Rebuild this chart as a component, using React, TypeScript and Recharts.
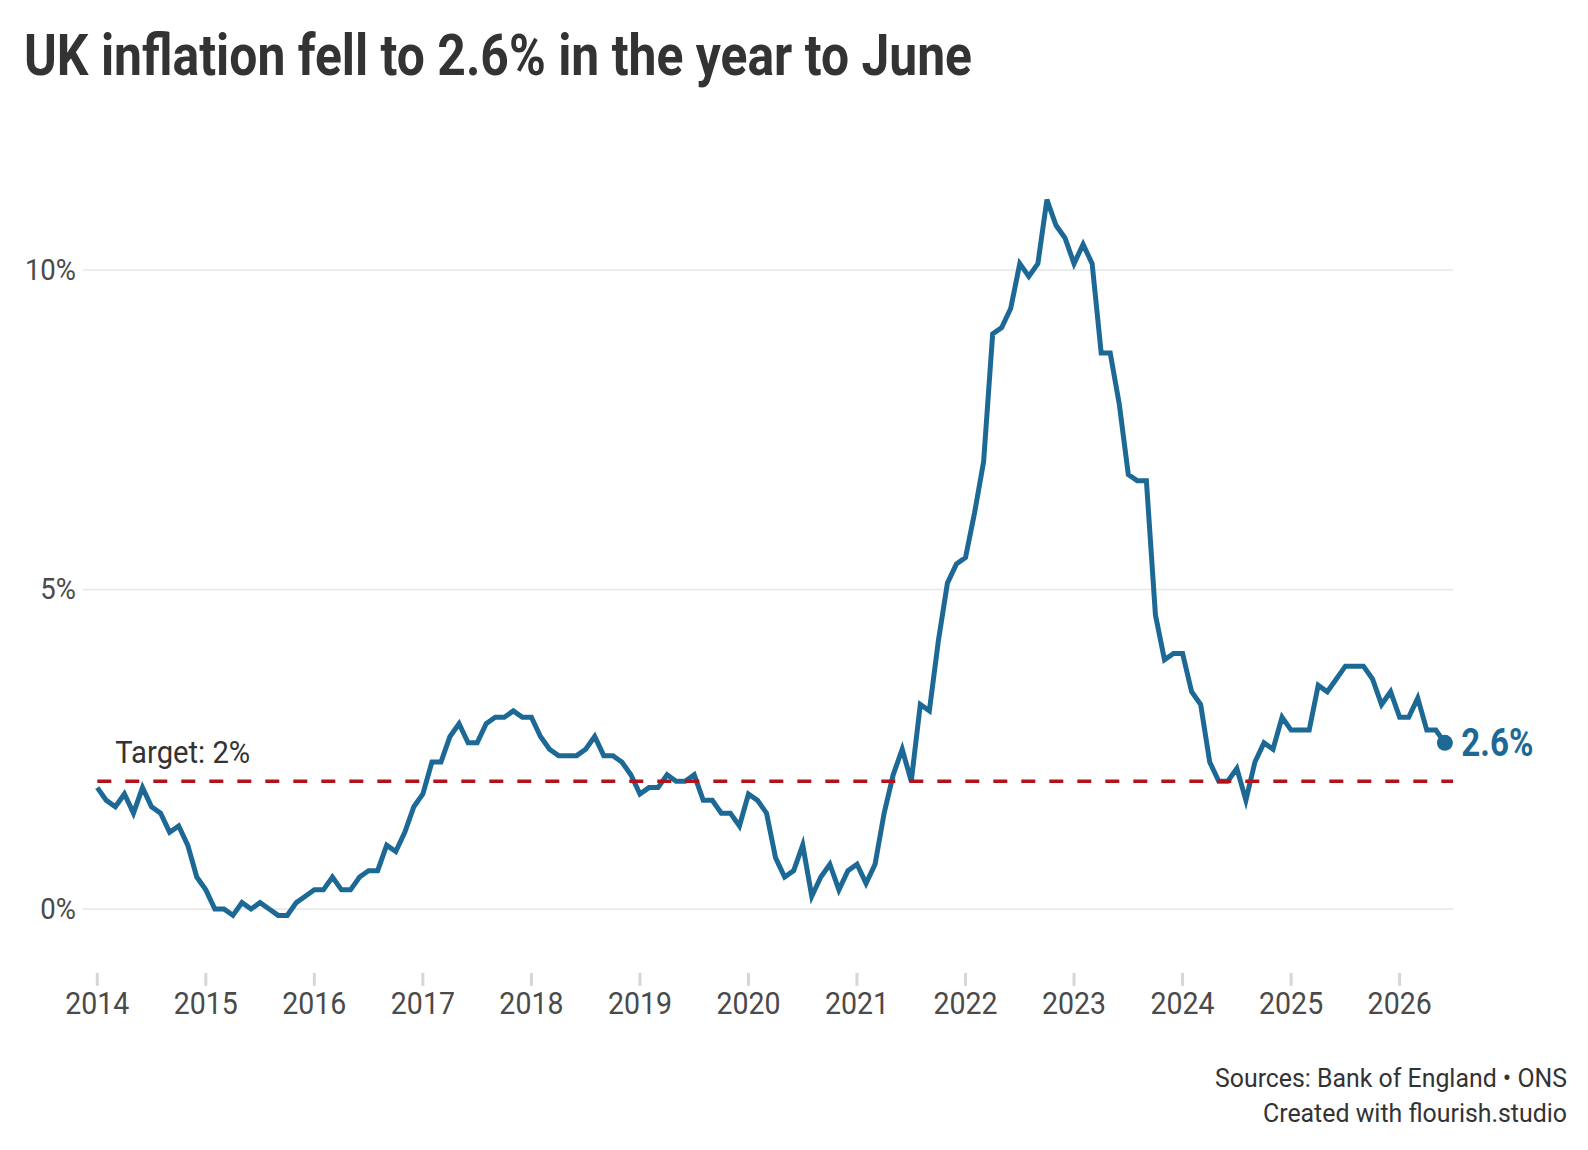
import React from 'react';
import {
  LineChart,
  Line,
  XAxis,
  YAxis,
  ReferenceLine,
  ReferenceDot,
} from 'recharts';

// ---------- data ----------
const startYear = 2014;
const yearLabels = ['2014', '2015', '2016', '2017', '2018', '2019', '2020', '2021', '2022', '2023', '2024', '2025', '2026'];

const cpi2014 = [1.9, 1.7, 1.6, 1.8, 1.5, 1.9, 1.6, 1.5, 1.2, 1.3, 1.0, 0.5];
const cpi2015 = [0.3, 0.0, 0.0, -0.1, 0.1, 0.0, 0.1, 0.0, -0.1, -0.1, 0.1, 0.2];
const cpi2016 = [0.3, 0.3, 0.5, 0.3, 0.3, 0.5, 0.6, 0.6, 1.0, 0.9, 1.2, 1.6];
const cpi2017 = [1.8, 2.3, 2.3, 2.7, 2.9, 2.6, 2.6, 2.9, 3.0, 3.0, 3.1, 3.0];
const cpi2018 = [3.0, 2.7, 2.5, 2.4, 2.4, 2.4, 2.5, 2.7, 2.4, 2.4, 2.3, 2.1];
const cpi2019 = [1.8, 1.9, 1.9, 2.1, 2.0, 2.0, 2.1, 1.7, 1.7, 1.5, 1.5, 1.3];
const cpi2020 = [1.8, 1.7, 1.5, 0.8, 0.5, 0.6, 1.0, 0.2, 0.5, 0.7, 0.3, 0.6];
const cpi2021 = [0.7, 0.4, 0.7, 1.5, 2.1, 2.5, 2.0, 3.2, 3.1, 4.2, 5.1, 5.4];
const cpi2022 = [5.5, 6.2, 7.0, 9.0, 9.1, 9.4, 10.1, 9.9, 10.1, 11.1, 10.7, 10.5];
const cpi2023 = [10.1, 10.4, 10.1, 8.7, 8.7, 7.9, 6.8, 6.7, 6.7, 4.6, 3.9, 4.0];
const cpi2024 = [4.0, 3.4, 3.2, 2.3, 2.0, 2.0, 2.2, 1.7, 2.3, 2.6, 2.5, 3.0];
const cpi2025 = [2.8, 2.8, 2.8, 3.5, 3.4, 3.6, 3.8, 3.8, 3.8, 3.6, 3.2, 3.4];
const cpi2026 = [3.0, 3.0, 3.3, 2.8, 2.8, 2.6];

const yTicks = [0, 5, 10];
const yTickLabels = ['0%', '5%', '10%'];
const targetRate = 2;
const targetLabel = 'Target: 2%';
const titleText = 'UK inflation fell to 2.6% in the year to June';
const footerLines = ['Sources: Bank of England \u2022 ONS', 'Created with flourish.studio'];

const allValues = [
  ...cpi2014, ...cpi2015, ...cpi2016, ...cpi2017, ...cpi2018, ...cpi2019, ...cpi2020,
  ...cpi2021, ...cpi2022, ...cpi2023, ...cpi2024, ...cpi2025, ...cpi2026,
];
const data = allValues.map((v, i) => ({
  i,
  month: `${startYear + Math.floor(i / 12)}-${String((i % 12) + 1).padStart(2, '0')}`,
  cpi: v,
}));
const lastIndex = data.length - 1;
const lastValue = data[lastIndex].cpi;
const xTicks = yearLabels.map((_, k) => k * 12);

// ---------- style ----------
const W = 1588;
const H = 1150;
const BLUE = '#1d6996';
const RED = '#b3121c';
const FONT = 'Roboto, "Noto Sans", sans-serif';
const X_DOMAIN: [number, number] = [-1.58, 149.9];
const Y_DOMAIN: [number, number] = [-1, 11.2];

const XTick = (props: any) => {
  const { x, payload } = props;
  const label = yearLabels[Math.round(payload.value / 12)];
  return (
    <text
      x={0}
      y={0}
      transform={`translate(${x},1014) scale(0.92,1)`}
      textAnchor="middle"
      fontSize={31}
      fill="#4a4a4a"
      fontFamily={FONT}
    >
      {label}
    </text>
  );
};

const YTick = (props: any) => {
  const { y, payload } = props;
  const idx = yTicks.indexOf(payload.value);
  return (
    <text
      x={0}
      y={0}
      transform={`translate(76,${y + 10}) scale(0.95,1)`}
      textAnchor="end"
      fontSize={29}
      fill="#4a4a4a"
      fontFamily={FONT}
    >
      {yTickLabels[idx]}
    </text>
  );
};

const TargetLabel = (props: any) => {
  const vb = props.viewBox || {};
  const x = (vb.x ?? 97) + 18;
  const y = (vb.y ?? 781) - 18;
  return (
    <text
      x={x}
      y={y}
      fontSize={31}
      fill="#333333"
      fontFamily={FONT}
      textLength={135}
      lengthAdjust="spacingAndGlyphs"
    >
      {targetLabel}
    </text>
  );
};

const EndDot = (props: any) => {
  const { cx, cy } = props;
  return (
    <g>
      <circle cx={cx} cy={cy} r={8} fill={BLUE} />
      <text
        x={cx + 16.5}
        y={cy + 13}
        fontSize={38}
        fontWeight={700}
        fill={BLUE}
        fontFamily={FONT}
        textLength={72}
        lengthAdjust="spacingAndGlyphs"
      >
        {`${lastValue}%`}
      </text>
    </g>
  );
};

export default function App() {
  return (
    <div style={{ position: 'absolute', left: 0, top: 0, width: W, height: H, background: '#ffffff' }}>
      <LineChart
        width={W}
        height={H}
        data={data}
        margin={{ top: 193.3, right: 135, bottom: 0, left: 0 }}
      >
        <XAxis
          dataKey="i"
          type="number"
          domain={X_DOMAIN}
          ticks={xTicks}
          interval={0}
          allowDataOverflow
          axisLine={false}
          tickSize={13}
          tickLine={{ stroke: '#d6d6d6', strokeWidth: 3 }}
          tick={<XTick />}
          height={177.1}
        />
        <YAxis
          type="number"
          domain={Y_DOMAIN}
          ticks={yTicks}
          allowDataOverflow
          axisLine={false}
          tickLine={false}
          tick={<YTick />}
          width={83}
        />
        {yTicks.map((t) => (
          <ReferenceLine key={`grid-${t}`} y={t} stroke="#e6e6e6" strokeWidth={1.6} />
        ))}
        <Line
          type="linear"
          dataKey="cpi"
          stroke={BLUE}
          strokeWidth={5}
          dot={false}
          activeDot={false}
          isAnimationActive={false}
        />
        <ReferenceLine
          segment={[
            { x: 0, y: targetRate },
            { x: X_DOMAIN[1], y: targetRate },
          ]}
          stroke={RED}
          strokeWidth={3.5}
          strokeDasharray="14 14"
          label={<TargetLabel />}
          ifOverflow="visible"
        />
        <ReferenceDot
          x={lastIndex}
          y={lastValue}
          r={8}
          isFront
          shape={<EndDot />}
          ifOverflow="visible"
        />
      </LineChart>
      <svg
        width={W}
        height={H}
        style={{ position: 'absolute', left: 0, top: 0, pointerEvents: 'none' }}
      >
        <text
          x={24}
          y={75}
          fontSize={57}
          fontWeight={700}
          fill="#333333"
          fontFamily={FONT}
          textLength={948}
          lengthAdjust="spacingAndGlyphs"
        >
          {titleText}
        </text>
        <text
          x={1567}
          y={1087}
          fontSize={26}
          fill="#333333"
          fontFamily={FONT}
          textAnchor="end"
          textLength={352}
          lengthAdjust="spacingAndGlyphs"
        >
          {footerLines[0]}
        </text>
        <text
          x={1567}
          y={1122}
          fontSize={26}
          fill="#333333"
          fontFamily={FONT}
          textAnchor="end"
          textLength={304}
          lengthAdjust="spacingAndGlyphs"
        >
          {footerLines[1]}
        </text>
      </svg>
    </div>
  );
}
